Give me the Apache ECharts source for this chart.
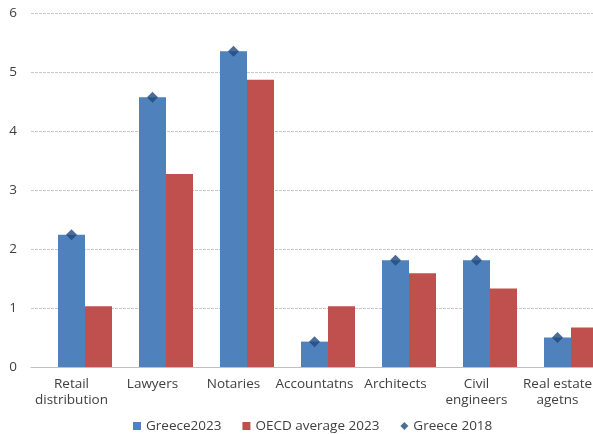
<!DOCTYPE html>
<html>
<head>
<meta charset="utf-8">
<script src="https://cdn.jsdelivr.net/npm/echarts@6/dist/echarts.min.js"></script>
<style>
    html, body { margin: 0; padding: 0; background: #fff; }
    #chart { width: 593px; height: 434px; }
</style>
</head>
<body>
<div id="chart"></div>
<script>
var categories = ['Retail\ndistribution', 'Lawyers', 'Notaries', 'Accountatns', 'Architects', 'Civil\nengineers', 'Real estate\nagetns'];
var greece2023 = [2.24, 4.57, 5.35, 0.43, 1.81, 1.81, 0.50];
var oecd2023 = [1.03, 3.27, 4.87, 1.03, 1.59, 1.33, 0.67];
var greece2018 = [2.24, 4.57, 5.35, 0.43, 1.81, 1.81, 0.50];
var yTicks = [0, 1, 2, 3, 4, 5, 6];

var textColor = '#404040';
var font = 'Open Sans';
var fontSize = 13.5;

var myChart = echarts.init(document.getElementById('chart'));

var option = {
    animation: false,
    grid: {
        left: 31,
        width: 567,   // right edge is cut off in the original picture
        top: 13,
        bottom: 67,
        outerBoundsMode: 'none'
    },
    legend: {
        top: 414,
        left: 128,
        itemWidth: 8,
        itemHeight: 8,
        itemGap: 21,
        textStyle: { color: textColor, fontFamily: font, fontSize: fontSize },
        data: [
            { name: 'Greece2023', icon: 'rect' },
            { name: 'OECD average 2023', icon: 'rect' },
            { name: 'Greece 2018', icon: 'diamond', itemStyle: { color: '#1F497D' } }
        ]
    },
    xAxis: {
        type: 'category',
        data: categories,
        axisLine: { lineStyle: { color: '#BFBFBF', width: 1 } },
        axisTick: { show: false },
        axisLabel: {
            color: textColor,
            fontFamily: font,
            fontSize: fontSize,
            lineHeight: 16,
            margin: 9,
            interval: 0
        }
    },
    yAxis: {
        type: 'value',
        min: yTicks[0],
        max: yTicks[yTicks.length - 1],
        interval: 1,
        axisLine: { show: false },
        axisTick: { show: false },
        axisLabel: { color: textColor, fontFamily: font, fontSize: fontSize, margin: 14 },
        splitLine: { lineStyle: { color: '#C8C8C8', type: [3, 1], width: 1 } }
    },
    series: [
        {
            // empty slot so the blue bar sits on the category centre like in the original
            name: 'spacer',
            type: 'bar',
            data: [],
            barWidth: 27,
            barGap: '0%',
            silent: true
        },
        {
            name: 'Greece2023',
            type: 'bar',
            data: greece2023,
            barWidth: 27,
            itemStyle: { color: '#4F81BD' }
        },
        {
            name: 'OECD average 2023',
            type: 'bar',
            data: oecd2023,
            barWidth: 27,
            itemStyle: { color: '#C0504D' }
        },
        {
            name: 'Greece 2018',
            type: 'scatter',
            data: greece2018,
            symbol: 'diamond',
            symbolSize: [11, 11],
            itemStyle: { color: '#1F497D' },
            z: 5
        }
    ]
};

myChart.setOption(option);
</script>
</body>
</html>
